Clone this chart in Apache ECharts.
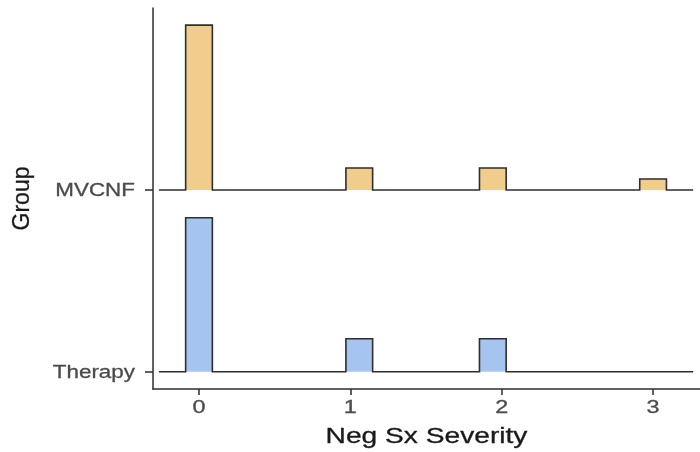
<!DOCTYPE html>
<html>
<head>
<meta charset="utf-8">
<script src="https://cdn.jsdelivr.net/npm/echarts@6/dist/echarts.min.js"></script>
<style>
  html, body { margin: 0; padding: 0; background: #ffffff; }
  #chart { width: 700px; height: 452px; }
</style>
</head>
<body>
<div id="chart"></div>
<script>
// Groups, listed bottom to top
const groups = ['Therapy', 'MVCNF'];
// Observed severity scores and how many participants had each one
const severity = [0, 1, 2, 3];
const therapyCounts = [14, 3, 3, 0];
const mvcnfCounts = [15, 2, 2, 1];
const xTicks = [0, 1, 2, 3];
const xTitle = 'Neg Sx Severity';
const yTitle = 'Group';

const groupCounts = [therapyCounts, mvcnfCounts];
const groupFills = ['#A6C4F0', '#F0CD8C'];

// Histogram binning: 18 bins of equal width centred on 0 .. 3
const binWidth = 3 / 17;
// Ridge height per count, in units of the spacing between groups
const countScale = 0.0605;

function binsFor(counts) {
  const out = [];
  severity.forEach((v, i) => {
    if (counts[i] > 0) {
      const centre = Math.round(v / binWidth) * binWidth;
      out.push({ lo: centre - binWidth / 2, hi: centre + binWidth / 2, n: counts[i] });
    }
  });
  return out;
}

const chart = echarts.init(document.getElementById('chart'), null, { renderer: 'canvas' });

const lineColor = '#2e2e2e';
const textGray = '#4A4A4A';
const titleColor = '#1a1a1a';
const font = 'Liberation Sans, Arial, sans-serif';
const X_MIN = -0.304, X_MAX = 3.31, Y_MIN = 0.9048, Y_MAX = 3.0016;

chart.setOption({
  animation: false,
  backgroundColor: '#ffffff',
  grid: { left: 153, right: 0, top: 8, bottom: 63, outerBoundsMode: 'none', containLabel: false },
  xAxis: {
    type: 'value',
    min: X_MIN,
    max: X_MAX,
    splitLine: { show: false },
    axisLine: { show: true, onZero: false, lineStyle: { color: lineColor, width: 1.5 } },
    axisTick: { show: true, customValues: xTicks, length: 6, lineStyle: { color: lineColor, width: 1.5 } },
    axisLabel: { show: false }
  },
  yAxis: {
    type: 'value',
    min: Y_MIN,
    max: Y_MAX,
    splitLine: { show: false },
    axisLine: { show: true, onZero: false, lineStyle: { color: lineColor, width: 1.5 } },
    axisTick: { show: true, customValues: [1, 2], length: 8, lineStyle: { color: lineColor, width: 1.5 } },
    axisLabel: { show: false }
  },
  series: [{
    type: 'custom',
    clip: false,
    data: groups.map((g, gi) => [0, gi + 1, gi]),
    encode: { x: 0, y: 1 },
    renderItem: function (params, api) {
      const gi = api.value(2);
      const base = gi + 1;
      const bins = binsFor(groupCounts[gi]);
      const children = [];
      // outline of the ridge: padded baseline with a step for each non-empty bin
      const pts = [api.coord([-1.5 * binWidth, base])];
      bins.forEach(b => {
        const top = base + b.n * countScale;
        const p0 = api.coord([b.lo, base]);
        const p1 = api.coord([b.hi, top]);
        children.push({
          type: 'rect',
          shape: { x: p0[0], y: p1[1], width: p1[0] - p0[0], height: p0[1] - p1[1] },
          style: { fill: groupFills[gi] }
        });
        pts.push(api.coord([b.lo, base]));
        pts.push(api.coord([b.lo, top]));
        pts.push(api.coord([b.hi, top]));
        pts.push(api.coord([b.hi, base]));
      });
      pts.push(api.coord([18.5 * binWidth, base]));
      children.push({
        type: 'polyline',
        shape: { points: pts },
        style: { stroke: lineColor, lineWidth: 1.6, fill: null }
      });
      return { type: 'group', children: children };
    }
  }]
});

// Axis labels and titles in a wide, stretched face
const toPx = (x, y) => chart.convertToPixel({ gridIndex: 0 }, [x, y]);
const texts = [];

groups.forEach((g, gi) => {
  const p = toPx(X_MIN, gi + 1);
  texts.push({
    type: 'text', x: p[0] - 18, y: p[1] + 1, scaleX: 1.18,
    style: { text: g, fill: textGray, font: '19px ' + font, align: 'right', verticalAlign: 'middle',
             stroke: textGray, lineWidth: 0.3 }
  });
});

xTicks.forEach(t => {
  const p = toPx(t, Y_MIN);
  texts.push({
    type: 'text', x: p[0], y: p[1] + 19, scaleX: 1.3,
    style: { text: String(t), fill: textGray, font: '18px ' + font, align: 'center', verticalAlign: 'middle',
             stroke: textGray, lineWidth: 0.3 }
  });
});

const left = toPx(X_MIN, Y_MIN), right = toPx(X_MAX, Y_MAX);
texts.push({
  type: 'text', x: (left[0] + right[0]) / 2, y: left[1] + 48, scaleX: 1.28,
  style: { text: xTitle, fill: titleColor, font: '22px ' + font, align: 'center', verticalAlign: 'middle',
           stroke: titleColor, lineWidth: 0.3 }
});
texts.push({
  type: 'text', x: 23, y: (left[1] + right[1]) / 2, rotation: Math.PI / 2,
  style: { text: yTitle, fill: titleColor, font: '23px ' + font, align: 'center', verticalAlign: 'middle',
           stroke: titleColor, lineWidth: 0.3 }
});

chart.setOption({ graphic: { elements: texts } });
</script>
</body>
</html>
